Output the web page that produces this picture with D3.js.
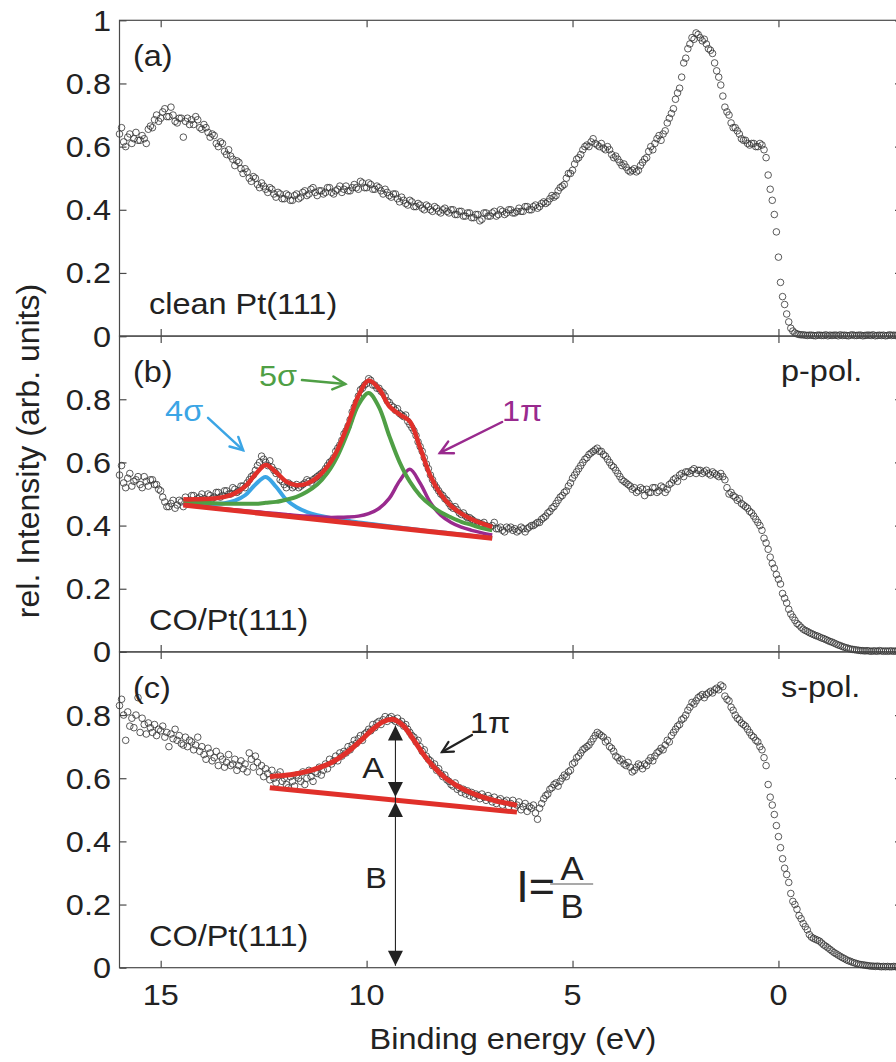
<!DOCTYPE html>
<html>
<head>
<meta charset="utf-8">
<script src="https://cdn.jsdelivr.net/npm/d3@7"></script>
<style>
  body { margin: 0; background: #fff; }
  svg { display: block; }
</style>
</head>
<body>
<svg id="fig" width="896" height="1062"></svg>
<script>
// Valence-band photoemission of clean Pt(111) and CO/Pt(111) (p- and s-polarised light)

// binding-energy sampling grid of the spectra (eV), 16 eV down to -3 eV
const energyStart = 16.0, energyStep = 0.05, energyCount = 381;
const energies = d3.range(energyCount).map(i => +(energyStart - i * energyStep).toFixed(2));

// (a) clean Pt(111), one row per eV
const cleanPt = [
  0.64, 0.66, 0.615, 0.60, 0.63, 0.64, 0.61, 0.625, 0.645, 0.62, 0.62, 0.635, 0.625, 0.61, 0.655, 0.665, 0.66, 0.685, 0.70, 0.68,
  0.69, 0.71, 0.72, 0.695, 0.695, 0.725, 0.70, 0.68, 0.675, 0.69, 0.69, 0.63, 0.68, 0.69, 0.67, 0.685, 0.67, 0.695, 0.685, 0.66,
  0.655, 0.67, 0.66, 0.645, 0.63, 0.64, 0.635, 0.61, 0.60, 0.615, 0.61, 0.585, 0.575, 0.59, 0.57, 0.56, 0.54, 0.555, 0.55, 0.53,
  0.515, 0.53, 0.52, 0.50, 0.49, 0.505, 0.50, 0.48, 0.47, 0.485, 0.475, 0.465, 0.455, 0.47, 0.465, 0.45, 0.44, 0.455, 0.45, 0.435,
  0.435, 0.45, 0.445, 0.43, 0.43, 0.445, 0.45, 0.435, 0.44, 0.455, 0.46, 0.445, 0.45, 0.465, 0.47, 0.455, 0.445, 0.46, 0.46, 0.45,
  0.455, 0.47, 0.47, 0.455, 0.45, 0.46, 0.465, 0.475, 0.455, 0.465, 0.475, 0.46, 0.46, 0.47, 0.48, 0.47, 0.465, 0.49, 0.485, 0.47,
  0.47, 0.485, 0.48, 0.465, 0.465, 0.475, 0.47, 0.46, 0.45, 0.465, 0.455, 0.445, 0.44, 0.45, 0.45, 0.435, 0.425, 0.44, 0.43, 0.42,
  0.415, 0.43, 0.425, 0.41, 0.41, 0.42, 0.415, 0.405, 0.40, 0.415, 0.41, 0.40, 0.395, 0.41, 0.405, 0.395, 0.39, 0.40, 0.405, 0.395,
  0.39, 0.40, 0.40, 0.385, 0.385, 0.395, 0.395, 0.38, 0.38, 0.39, 0.39, 0.375, 0.375, 0.385, 0.385, 0.365, 0.37, 0.39, 0.39, 0.38,
  0.38, 0.39, 0.395, 0.38, 0.385, 0.40, 0.395, 0.385, 0.39, 0.40, 0.40, 0.39, 0.39, 0.395, 0.405, 0.395, 0.395, 0.41, 0.41, 0.40,
  0.40, 0.41, 0.415, 0.405, 0.41, 0.42, 0.425, 0.42, 0.425, 0.435, 0.445, 0.44, 0.445, 0.46, 0.47, 0.475, 0.48, 0.50, 0.515, 0.515,
  0.525, 0.545, 0.56, 0.565, 0.575, 0.59, 0.60, 0.605, 0.60, 0.615, 0.625, 0.61, 0.605, 0.60, 0.61, 0.595, 0.59, 0.60, 0.59, 0.575,
  0.565, 0.57, 0.56, 0.55, 0.54, 0.545, 0.535, 0.525, 0.52, 0.525, 0.53, 0.52, 0.525, 0.54, 0.55, 0.56, 0.565, 0.585, 0.60, 0.59,
  0.61, 0.625, 0.635, 0.62, 0.64, 0.65, 0.675, 0.69, 0.705, 0.72, 0.75, 0.77, 0.785, 0.82, 0.865, 0.88, 0.91, 0.925, 0.945, 0.94,
  0.96, 0.955, 0.945, 0.935, 0.94, 0.925, 0.91, 0.905, 0.895, 0.865, 0.84, 0.82, 0.795, 0.76, 0.725, 0.71, 0.70, 0.675, 0.66, 0.66,
  0.65, 0.64, 0.625, 0.62, 0.62, 0.61, 0.605, 0.61, 0.61, 0.60, 0.60, 0.61, 0.605, 0.59, 0.565, 0.51, 0.465, 0.43, 0.385, 0.33,
  0.25, 0.17, 0.125, 0.10, 0.07, 0.045, 0.025, 0.016, 0.01, 0.007, 0.005, 0.004, 0.004, 0.003, 0.002, 0.003, 0.003, 0.002, 0.001, 0.003,
  0.003, 0.002, 0.002, 0.004, 0.001, 0.003, 0.002, 0.003, 0.003, 0.001, 0.004, 0.002, 0.003, 0.002, 0.001, 0.003, 0.004, 0.002, 0.002, 0.003,
  0.003, 0.001, 0.002, 0.003, 0.003, 0.002, 0.004, 0.001, 0.002, 0.003, 0.002, 0.003, 0.001, 0.002, 0.004, 0.002, 0.003, 0.002, 0.001, 0.003,
  0.002
];

// (b) CO/Pt(111), p-polarised
const coPpol = [
  0.56, 0.59, 0.535, 0.52, 0.55, 0.565, 0.525, 0.54, 0.545, 0.555, 0.53, 0.52, 0.555, 0.54, 0.525, 0.545, 0.545, 0.53, 0.53, 0.515,
  0.51, 0.49, 0.475, 0.46, 0.46, 0.47, 0.48, 0.455, 0.465, 0.48, 0.475, 0.46, 0.49, 0.475, 0.48, 0.495, 0.495, 0.48, 0.485, 0.49,
  0.50, 0.485, 0.48, 0.50, 0.495, 0.485, 0.49, 0.505, 0.505, 0.49, 0.495, 0.51, 0.51, 0.50, 0.50, 0.52, 0.515, 0.505, 0.51, 0.525,
  0.525, 0.52, 0.535, 0.545, 0.555, 0.56, 0.575, 0.59, 0.60, 0.62, 0.61, 0.60, 0.59, 0.605, 0.585, 0.575, 0.565, 0.57, 0.545, 0.54,
  0.53, 0.52, 0.535, 0.53, 0.52, 0.525, 0.53, 0.52, 0.525, 0.53, 0.535, 0.545, 0.54, 0.535, 0.545, 0.55, 0.555, 0.56, 0.565, 0.57,
  0.58, 0.59, 0.60, 0.605, 0.615, 0.635, 0.645, 0.655, 0.67, 0.69, 0.70, 0.715, 0.735, 0.76, 0.775, 0.79, 0.81, 0.83, 0.835, 0.845,
  0.85, 0.865, 0.86, 0.845, 0.845, 0.835, 0.835, 0.825, 0.82, 0.81, 0.795, 0.79, 0.78, 0.775, 0.765, 0.77, 0.755, 0.75, 0.745, 0.75,
  0.73, 0.72, 0.71, 0.70, 0.685, 0.665, 0.65, 0.635, 0.615, 0.595, 0.58, 0.56, 0.545, 0.53, 0.52, 0.51, 0.50, 0.495, 0.485, 0.48,
  0.47, 0.46, 0.455, 0.46, 0.45, 0.44, 0.435, 0.44, 0.43, 0.425, 0.425, 0.42, 0.415, 0.41, 0.41, 0.405, 0.405, 0.41, 0.40, 0.395,
  0.395, 0.40, 0.41, 0.39, 0.39, 0.395, 0.385, 0.38, 0.395, 0.39, 0.395, 0.385, 0.39, 0.38, 0.385, 0.395, 0.39, 0.38, 0.39, 0.395,
  0.40, 0.40, 0.405, 0.41, 0.41, 0.42, 0.425, 0.43, 0.44, 0.445, 0.455, 0.46, 0.47, 0.48, 0.49, 0.495, 0.505, 0.51, 0.525, 0.535,
  0.55, 0.56, 0.57, 0.58, 0.59, 0.60, 0.61, 0.615, 0.625, 0.63, 0.635, 0.64, 0.645, 0.635, 0.635, 0.625, 0.62, 0.61, 0.60, 0.59,
  0.585, 0.575, 0.565, 0.555, 0.545, 0.54, 0.535, 0.53, 0.525, 0.515, 0.52, 0.505, 0.51, 0.52, 0.515, 0.495, 0.515, 0.505, 0.505, 0.52,
  0.52, 0.505, 0.51, 0.525, 0.52, 0.505, 0.515, 0.53, 0.535, 0.545, 0.55, 0.54, 0.56, 0.565, 0.555, 0.57, 0.57, 0.565, 0.575, 0.58,
  0.565, 0.575, 0.575, 0.565, 0.57, 0.575, 0.565, 0.56, 0.57, 0.565, 0.56, 0.555, 0.565, 0.555, 0.545, 0.52, 0.50, 0.505, 0.495, 0.49,
  0.48, 0.485, 0.47, 0.465, 0.46, 0.455, 0.445, 0.44, 0.43, 0.42, 0.41, 0.40, 0.385, 0.36, 0.345, 0.325, 0.30, 0.28, 0.265, 0.245,
  0.23, 0.215, 0.185, 0.17, 0.155, 0.135, 0.12, 0.11, 0.10, 0.09, 0.085, 0.078, 0.072, 0.068, 0.065, 0.061, 0.058, 0.055, 0.052, 0.05,
  0.047, 0.044, 0.042, 0.039, 0.036, 0.033, 0.031, 0.028, 0.025, 0.022, 0.02, 0.017, 0.015, 0.013, 0.011, 0.009, 0.008, 0.007, 0.006, 0.005,
  0.004, 0.004, 0.003, 0.004, 0.003, 0.002, 0.003, 0.003, 0.002, 0.004, 0.003, 0.002, 0.003, 0.002, 0.003, 0.003, 0.002, 0.003, 0.002, 0.003,
  0.003
];

// (c) CO/Pt(111), s-polarised
const coSpol = [
  0.83, 0.85, 0.80, 0.72, 0.81, 0.765, 0.79, 0.76, 0.80, 0.855, 0.745, 0.79, 0.77, 0.74, 0.775, 0.76, 0.745, 0.77, 0.735, 0.755,
  0.75, 0.765, 0.73, 0.745, 0.70, 0.74, 0.725, 0.755, 0.72, 0.735, 0.71, 0.705, 0.73, 0.70, 0.72, 0.715, 0.69, 0.705, 0.73, 0.685,
  0.70, 0.675, 0.66, 0.695, 0.68, 0.655, 0.665, 0.685, 0.64, 0.67, 0.66, 0.635, 0.65, 0.675, 0.64, 0.645, 0.66, 0.625, 0.64, 0.655,
  0.63, 0.645, 0.62, 0.68, 0.66, 0.635, 0.67, 0.65, 0.62, 0.64, 0.605, 0.63, 0.615, 0.595, 0.625, 0.60, 0.585, 0.61, 0.62, 0.59,
  0.60, 0.58, 0.57, 0.605, 0.59, 0.575, 0.61, 0.60, 0.59, 0.62, 0.58, 0.60, 0.625, 0.605, 0.59, 0.62, 0.615, 0.635, 0.61, 0.625,
  0.645, 0.63, 0.66, 0.645, 0.655, 0.67, 0.655, 0.68, 0.67, 0.685, 0.68, 0.70, 0.69, 0.705, 0.72, 0.71, 0.725, 0.735, 0.72, 0.74,
  0.745, 0.755, 0.75, 0.77, 0.76, 0.775, 0.78, 0.77, 0.785, 0.795, 0.78, 0.79, 0.795, 0.785, 0.78, 0.79, 0.775, 0.78, 0.765, 0.77,
  0.755, 0.745, 0.735, 0.73, 0.715, 0.72, 0.70, 0.685, 0.69, 0.67, 0.66, 0.655, 0.64, 0.645, 0.625, 0.63, 0.615, 0.605, 0.61, 0.595,
  0.59, 0.58, 0.575, 0.585, 0.565, 0.57, 0.555, 0.565, 0.55, 0.56, 0.545, 0.555, 0.54, 0.55, 0.545, 0.535, 0.55, 0.54, 0.53, 0.545,
  0.535, 0.525, 0.54, 0.52, 0.53, 0.535, 0.515, 0.525, 0.53, 0.51, 0.52, 0.53, 0.505, 0.515, 0.525, 0.50, 0.51, 0.52, 0.495, 0.51,
  0.505, 0.515, 0.49, 0.47, 0.505, 0.52, 0.535, 0.545, 0.55, 0.565, 0.57, 0.58, 0.585, 0.575, 0.59, 0.60, 0.61, 0.605, 0.62, 0.625,
  0.645, 0.65, 0.665, 0.67, 0.68, 0.69, 0.695, 0.70, 0.705, 0.715, 0.725, 0.735, 0.745, 0.74, 0.735, 0.73, 0.715, 0.72, 0.70, 0.695,
  0.685, 0.67, 0.665, 0.655, 0.66, 0.645, 0.64, 0.65, 0.635, 0.62, 0.625, 0.635, 0.645, 0.64, 0.63, 0.645, 0.64, 0.655, 0.665, 0.655,
  0.67, 0.68, 0.685, 0.695, 0.69, 0.705, 0.72, 0.715, 0.735, 0.745, 0.755, 0.765, 0.77, 0.785, 0.79, 0.80, 0.815, 0.825, 0.84, 0.835,
  0.845, 0.855, 0.86, 0.865, 0.855, 0.865, 0.87, 0.875, 0.87, 0.88, 0.885, 0.88, 0.895, 0.89, 0.86, 0.85, 0.845, 0.825, 0.815, 0.80,
  0.79, 0.785, 0.775, 0.77, 0.765, 0.755, 0.745, 0.735, 0.73, 0.72, 0.715, 0.70, 0.69, 0.665, 0.64, 0.58, 0.54, 0.515, 0.485, 0.45,
  0.415, 0.38, 0.345, 0.315, 0.295, 0.27, 0.235, 0.21, 0.20, 0.185, 0.165, 0.155, 0.14, 0.13, 0.12, 0.105, 0.097, 0.093, 0.09, 0.087,
  0.084, 0.078, 0.072, 0.068, 0.063, 0.058, 0.053, 0.048, 0.044, 0.04, 0.036, 0.032, 0.029, 0.025, 0.022, 0.02, 0.017, 0.015, 0.013, 0.011,
  0.01, 0.009, 0.008, 0.007, 0.006, 0.005, 0.005, 0.004, 0.005, 0.004, 0.003, 0.004, 0.003, 0.004, 0.003, 0.003, 0.004, 0.003, 0.002, 0.003,
  0.003
];

// peak fit of (b): energies of the fit curves and each component on a linear background
const fitEnergiesB = [14.45, 14.2, 13.95, 13.7, 13.45, 13.2, 12.95, 12.7, 12.45, 12.2, 11.95,
  11.7, 11.45, 11.2, 10.95, 10.7, 10.45, 10.2, 9.95, 9.7, 9.45, 9.2, 8.95, 8.7, 8.45, 8.2,
  7.95, 7.7, 7.45, 7.2, 6.95];
const fitTotalB = [0.483, 0.483, 0.484, 0.486, 0.491, 0.502, 0.524, 0.562, 0.592, 0.569, 0.539,
  0.528, 0.533, 0.552, 0.587, 0.642, 0.722, 0.811, 0.859, 0.833, 0.778, 0.752, 0.730, 0.646,
  0.557, 0.499, 0.462, 0.438, 0.420, 0.407, 0.396];
const fit4sigma = [0.471, 0.469, 0.468, 0.468, 0.471, 0.479, 0.496, 0.530, 0.554, 0.523, 0.482,
  0.458, 0.443, 0.433, 0.426, 0.420, 0.415, 0.410, 0.406, 0.402, 0.398, 0.394, 0.390, 0.386,
  0.382, 0.379, 0.375, 0.372, 0.368, 0.364, 0.361];
const fit5sigma = [0.476, 0.474, 0.472, 0.471, 0.469, 0.469, 0.469, 0.469, 0.472, 0.475, 0.482,
  0.491, 0.507, 0.530, 0.567, 0.622, 0.698, 0.782, 0.820, 0.775, 0.684, 0.601, 0.539, 0.495,
  0.465, 0.442, 0.426, 0.412, 0.402, 0.392, 0.385];
const fit1piB = [0.466, 0.463, 0.460, 0.456, 0.453, 0.450, 0.447, 0.444, 0.441, 0.438, 0.435,
  0.432, 0.430, 0.428, 0.426, 0.426, 0.427, 0.430, 0.438, 0.454, 0.486, 0.541, 0.578, 0.534,
  0.472, 0.433, 0.410, 0.395, 0.385, 0.377, 0.370];
const backgroundEnergiesB = [14.45, 6.95];
const backgroundB = [0.465, 0.36];

// peak fit of (c): 1pi peak and its linear background
const fitEnergiesC = [12.35, 12.1, 11.85, 11.6, 11.35, 11.1, 10.85, 10.6, 10.35, 10.1, 9.85, 9.6,
  9.35, 9.1, 8.85, 8.6, 8.35, 8.1, 7.85, 7.6, 7.35, 7.1, 6.85, 6.6, 6.35];
const fit1piC = [0.605, 0.608, 0.611, 0.617, 0.625, 0.636, 0.650, 0.670, 0.695, 0.724, 0.755,
  0.779, 0.786, 0.765, 0.720, 0.672, 0.633, 0.602, 0.580, 0.562, 0.548, 0.537, 0.528, 0.521, 0.514];
const backgroundEnergiesC = [12.35, 6.35];
const backgroundC = [0.57, 0.4926];
// A = peak height above background, B = background height, at the peak energy
const peakEnergyC = 9.3, peakValueC = 0.786, backgroundAtPeakC = 0.531;

// axes
const xTickValues = [15, 10, 5, 0];
const xTickLabels = ["15", "10", "5", "0"];
const yTickValues = [0, 0.2, 0.4, 0.6, 0.8, 1];
const yTickLabels = ["0", "0.2", "0.4", "0.6", "0.8", "1"];

// ---------------------------------------------------------------------------
const svg = d3.select("#fig")
  .attr("font-family", "'Liberation Sans', Arial, Helvetica, sans-serif");

const plotLeft = 119.5, plotRight = 902;
const panelTops = [20.3, 336.1, 651.9], panelH = 315.8;
const axisColor = "#4a4a4a", inkColor = "#222";
const red = "#e0302a", green = "#4f9f45", blue = "#3ba5e5", purple = "#992a8e";
const fontSize = 29, stretch = 1.12;

const x = d3.scaleLinear().domain([16, -3]).range([plotLeft, plotRight]);

function label(g, px, py, str, o = {}) {
  return g.append("text")
    .attr("transform", `translate(${px},${py}) scale(${o.sx ?? stretch},1)`)
    .attr("text-anchor", o.anchor || "start")
    .attr("font-size", o.size || fontSize)
    .attr("fill", o.fill || inkColor)
    .text(str);
}

function openArrow(g, x1, y1, x2, y2, color, w, head = 14, spread = 0.48) {
  g.append("line").attr("x1", x1).attr("y1", y1).attr("x2", x2).attr("y2", y2)
    .attr("stroke", color).attr("stroke-width", w).attr("stroke-linecap", "round");
  const a = Math.atan2(y2 - y1, x2 - x1);
  const pts = [
    [x2 - head * Math.cos(a - spread), y2 - head * Math.sin(a - spread)],
    [x2, y2],
    [x2 - head * Math.cos(a + spread), y2 - head * Math.sin(a + spread)]
  ];
  g.append("path").attr("d", d3.line()(pts)).attr("fill", "none")
    .attr("stroke", color).attr("stroke-width", w)
    .attr("stroke-linecap", "round").attr("stroke-linejoin", "miter");
}

function triangle(g, cx, tipY, dir, size = 15) {
  // dir -1: points up, +1: points down
  const baseY = tipY - dir * size;
  g.append("path")
    .attr("d", `M${cx},${tipY}L${cx - size / 2},${baseY}L${cx + size / 2},${baseY}Z`)
    .attr("fill", inkColor);
}

const panels = [
  { tag: "(a)", sample: "clean Pt(111)", pol: null, values: cleanPt, nYLabels: 6 },
  { tag: "(b)", sample: "CO/Pt(111)", pol: "p-pol.", values: coPpol, nYLabels: 5 },
  { tag: "(c)", sample: "CO/Pt(111)", pol: "s-pol.", values: coSpol, nYLabels: 5 }
];

panels.forEach((p, i) => {
  const top = panelTops[i], bottom = top + panelH;
  const y = d3.scaleLinear().domain([0, 1]).range([bottom, top]);
  p.y = y;
  const g = svg.append("g");
  p.g = g;

  // frame
  g.append("rect").attr("x", plotLeft).attr("y", top)
    .attr("width", plotRight - plotLeft).attr("height", panelH)
    .attr("fill", "none").attr("stroke", axisColor).attr("stroke-width", 1.2);

  // inward ticks on all four sides
  const tickAxes = [
    [d3.axisRight(y).tickValues(yTickValues), `translate(${plotLeft},0)`],
    [d3.axisLeft(y).tickValues(yTickValues), `translate(${plotRight},0)`],
    [d3.axisBottom(x).tickValues(xTickValues), `translate(0,${top})`],
    [d3.axisTop(x).tickValues(xTickValues), `translate(0,${bottom})`]
  ];
  tickAxes.forEach(([ax, tr]) => {
    const a = g.append("g").attr("transform", tr)
      .call(ax.tickSize(7).tickFormat(""));
    a.select(".domain").remove();
    a.selectAll("line").attr("stroke", axisColor).attr("stroke-width", 1.2);
  });

  // y tick labels
  yTickValues.slice(0, p.nYLabels).forEach((v, k) => {
    label(g, 111, y(v) + 10.5, yTickLabels[k], { anchor: "end" });
  });

  // spectrum
  g.append("g").selectAll("circle")
    .data(energies.map((e, k) => [e, p.values[k]]))
    .join("circle")
    .attr("cx", d => x(d[0])).attr("cy", d => y(d[1])).attr("r", 3.3)
    .attr("fill", "none").attr("stroke", "#333").attr("stroke-width", 0.95)
    .attr("stroke-opacity", 0.85);

  label(g, 133, top + 46, p.tag);
  label(g, 149, bottom - 22, p.sample);
  if (p.pol) label(g, 781, top + 45, p.pol);
});

// x tick labels and axis titles
xTickValues.forEach((v, k) => label(svg, x(v), 1005, xTickLabels[k], { anchor: "middle" }));
label(svg, 513, 1049, "Binding energy (eV)", { anchor: "middle", sx: 1.12 });
svg.append("text")
  .attr("transform", "translate(39,451) rotate(-90)")
  .attr("text-anchor", "middle").attr("font-size", 32).attr("fill", inkColor)
  .text("rel. Intensity (arb. units)");

// ---- fit of panel (b) ----
{
  const { g, y } = panels[1];
  const line = d3.line().x(d => x(d[0])).y(d => y(d[1])).curve(d3.curveCatmullRom);
  const series = vals => fitEnergiesB.map((e, k) => [e, vals[k]]);
  g.append("path").attr("d", line(series(fit4sigma))).attr("fill", "none")
    .attr("stroke", blue).attr("stroke-width", 4);
  g.append("path").attr("d", line(series(fit1piB))).attr("fill", "none")
    .attr("stroke", purple).attr("stroke-width", 3.5);
  g.append("path").attr("d", line(series(fit5sigma))).attr("fill", "none")
    .attr("stroke", green).attr("stroke-width", 4);
  g.append("path").attr("d", d3.line().x(d => x(d[0])).y(d => y(d[1]))(
      backgroundEnergiesB.map((e, k) => [e, backgroundB[k]])))
    .attr("stroke", red).attr("stroke-width", 5).attr("fill", "none");
  g.append("path").attr("d", line(series(fitTotalB))).attr("fill", "none")
    .attr("stroke", red).attr("stroke-width", 4.5).attr("stroke-linejoin", "round");

  // component labels
  label(g, x(14.43), y(0.731), "4σ", { anchor: "middle", fill: blue });
  openArrow(g, x(13.85), y(0.741), x(13.0), y(0.639), blue, 2.5);
  label(g, x(12.15), y(0.842), "5σ", { anchor: "middle", fill: green });
  openArrow(g, x(11.57), y(0.861), x(10.52), y(0.848), green, 2.5);
  label(g, x(6.22), y(0.731), "1π", { anchor: "middle", fill: purple });
  openArrow(g, x(6.71), y(0.728), x(8.22), y(0.630), purple, 2.5);
}

// ---- fit of panel (c) and the A/B construction ----
{
  const { g, y } = panels[2];
  const line = d3.line().x(d => x(d[0])).y(d => y(d[1])).curve(d3.curveCatmullRom);
  g.append("path").attr("d", d3.line().x(d => x(d[0])).y(d => y(d[1]))(
      backgroundEnergiesC.map((e, k) => [e, backgroundC[k]])))
    .attr("stroke", red).attr("stroke-width", 5).attr("fill", "none");
  g.append("path").attr("d", line(fitEnergiesC.map((e, k) => [e, fit1piC[k]])))
    .attr("fill", "none").attr("stroke", red).attr("stroke-width", 5);

  const ax = x(peakEnergyC);
  const yPeak = y(peakValueC), yBack = y(backgroundAtPeakC), yZero = y(0);
  g.append("line").attr("x1", ax).attr("x2", ax).attr("y1", yPeak + 6).attr("y2", yZero - 2)
    .attr("stroke", inkColor).attr("stroke-width", 1.1);
  triangle(g, ax, yPeak + 6, -1);
  triangle(g, ax, yBack - 3, 1);
  triangle(g, ax, yBack + 2, -1);
  triangle(g, ax, yZero - 2, 1);
  label(g, x(9.84), y(0.60), "A", { anchor: "middle" });
  label(g, x(9.77), y(0.252), "B", { anchor: "middle" });

  label(g, x(7.0), y(0.743), "1π", { anchor: "middle" });
  openArrow(g, x(7.44), y(0.737), x(8.17), y(0.683), inkColor, 2.2, 12);

  // I = A / B
  const ix = x(6.32), iy = y(0.208);
  label(g, ix - 2, iy, "I=", { size: 44, sx: 1.02 });
  label(g, ix + 54, iy - 22, "A", { size: 34, sx: 1.02, anchor: "middle" });
  g.append("line").attr("x1", ix + 32).attr("x2", ix + 75)
    .attr("y1", iy - 18).attr("y2", iy - 18)
    .attr("stroke", "#555").attr("stroke-width", 1.2);
  label(g, ix + 54, iy + 16, "B", { size: 34, sx: 1.02, anchor: "middle" });
}
</script>
</body>
</html>
